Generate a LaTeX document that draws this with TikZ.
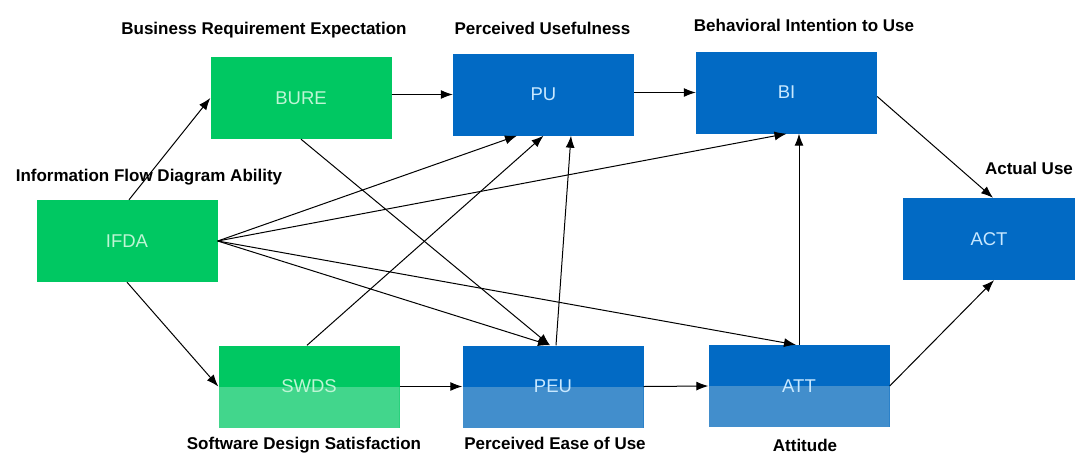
\documentclass[tikz,border=0pt]{standalone}
\usepackage{fontspec}
\setmainfont{Liberation Sans}
\usetikzlibrary{arrows.meta}

\definecolor{grn}{RGB}{0,200,98}
\definecolor{grnlow}{RGB}{66,214,140}
\definecolor{blu}{RGB}{2,106,196}
\definecolor{blulow}{RGB}{66,142,204}
\definecolor{grntxt}{RGB}{190,245,212}
\definecolor{blutxt}{RGB}{200,232,255}

\tikzset{
  box/.style={rectangle, minimum width=181pt, minimum height=82pt, inner sep=0pt,
              font=\fontsize{18.5}{21}\selectfont},
  gbox/.style={box, fill=grn, text=grntxt},
  bbox/.style={box, fill=blu, text=blutxt},
  % lower half of the box in a lighter tone
  lowband/.style={path picture={\fill[#1] (path picture bounding box.south west)
                   rectangle (path picture bounding box.east);}},
  title/.style={font=\fontsize{17}{20}\selectfont\bfseries, text=black, inner sep=0pt},
  link/.style={draw=black, line width=1pt, -{Latex[length=12pt,width=9pt]}}
}

\begin{document}
\begin{tikzpicture}[x=1pt,y=-1pt]
\useasboundingbox[fill=white] (0,0) rectangle (1075,455);

% construct boxes
\node[gbox] (BURE) at (301,98) {BURE};
\node[bbox] (PU) at (543.5,94.5) {PU};
\node[bbox] (BI) at (786.5,92.5) {BI};
\node[gbox] (IFDA) at (127,241) {IFDA};
\node[bbox, minimum width=172pt] (ACT) at (989,239) {ACT};
\node[gbox, lowband=grnlow] (SWDS) at (309,386.5) {SWDS};
\node[bbox, lowband=blulow] (PEU) at (553,386.5) {PEU};
\node[bbox, lowband=blulow] (ATT) at (799,386) {ATT};

% construct names
\node[title] (tBURE) at (264,30) {Business Requirement Expectation};
\node[title] (tPU) at (542.5,28) {Perceived Usefulness};
\node[title] (tBI) at (804,25) {Behavioral Intention to Use};
\node[title] (tIFDA) at (149,177) {Information Flow Diagram Ability};
\node[title] (tACT) at (1029,168) {Actual Use};
\node[title] (tSWDS) at (304,445) {Software Design Satisfaction};
\node[title] (tPEU) at (555,443) {Perceived Ease of Use};
\node[title] (tATT) at (805,445) {Attitude};

% paths
\draw[link] ([xshift=2pt]IFDA.north) -- (BURE.west);
\draw[link] (BURE.east |- PU.west) -- (PU.west);
\draw[link] (PU.east |- BI.west) -- (BI.west);
\draw[link] ([yshift=-4pt]BI.east) -- ([xshift=4pt]ACT.north);
\draw[link] (ATT.east) -- ([xshift=5pt]ACT.south);
\draw[link] (IFDA.south) -- (SWDS.west);
\draw[link] (SWDS.east) -- (PEU.west);
\draw[link] (PEU.east) -- (ATT.west);
\draw[link] (ATT.north) -- (ATT.north |- BI.south);
\draw[link] ([xshift=3pt]PEU.north) -- ([xshift=27.5pt]PU.south);
\draw[link] (BURE.south) -- ([xshift=-3pt]PEU.north);
\draw[link] ([xshift=-2pt]SWDS.north) -- (PU.south);
\draw[link] (IFDA.east) -- ([xshift=-26.5pt]PU.south);
\draw[link] (IFDA.east) -- (BI.south);
\draw[link] (IFDA.east) -- ([xshift=-3pt]PEU.north);
\draw[link] (IFDA.east) -- ([xshift=-3pt]ATT.north);
\end{tikzpicture}
\end{document}
